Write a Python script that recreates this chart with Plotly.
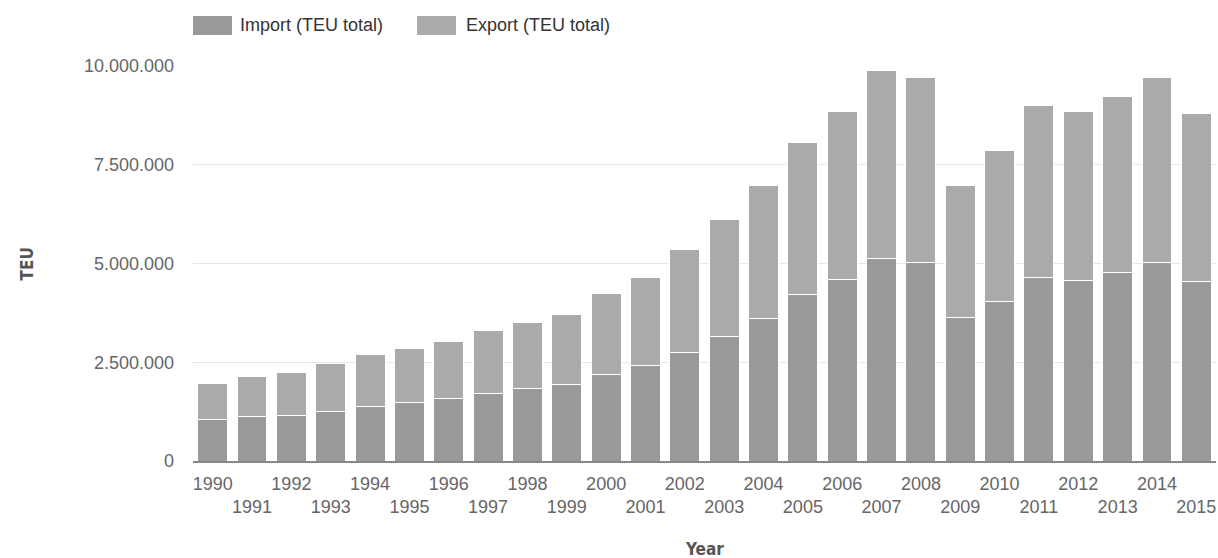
import plotly.graph_objects as go

years = [str(y) for y in range(1990, 2016)]
totals = [1.95, 2.15, 2.25, 2.48, 2.70, 2.86, 3.02, 3.31, 3.51, 3.70,
          4.23, 4.65, 5.36, 6.11, 6.98, 8.06, 8.84, 9.88, 9.71, 6.98,
          7.87, 8.99, 8.84, 9.22, 9.71, 8.80]
imports_m = [1.04, 1.13, 1.16, 1.26, 1.39, 1.48, 1.58, 1.71, 1.83, 1.94,
             2.20, 2.43, 2.75, 3.14, 3.60, 4.21, 4.60, 5.12, 5.03, 3.63,
             4.05, 4.64, 4.58, 4.77, 5.03, 4.55]
import_teu = [round(v * 1_000_000) for v in imports_m]
export_teu = [round((t - v) * 1_000_000) for t, v in zip(totals, imports_m)]

series_names = ["Import (TEU total)", "Export (TEU total)"]
series_colors = ["#999999", "#aaaaaa"]

y_ticks = [0, 2_500_000, 5_000_000, 7_500_000, 10_000_000]
y_tick_text = ["0", "2.500.000", "5.000.000", "7.500.000", "10.000.000"]
x_tick_text = [y if i % 2 == 0 else "<br>" + y for i, y in enumerate(years)]

FONT = "Liberation Sans, Arial, sans-serif"
TITLE_FONT = "DejaVu Sans Condensed, Liberation Sans Narrow, Arial Narrow, sans-serif"

W, H = 1218, 558
ML, MR, MT, MB = 193, 2, 66, 97
PW = W - ML - MR
PH = H - MT - MB


def px_to_paper_x(px):
    return (px - ML) / PW


def py_to_paper_y(py):
    return (H - MB - py) / PH


fig = go.Figure()
for name, vals, col in zip(series_names, [import_teu, export_teu], series_colors):
    fig.add_trace(go.Bar(x=years, y=vals, name=name,
                         marker=dict(color=col, line=dict(color="#ffffff", width=1))))

# custom legend (large swatches like the reference)
legend_items = [(193, 232, 238), (417, 456, 464)]
shapes = []
annotations = []
for (x0, x1, tx), name, col in zip(legend_items, series_names, series_colors):
    shapes.append(dict(type="rect", xref="paper", yref="paper",
                       x0=px_to_paper_x(x0), x1=px_to_paper_x(x1),
                       y0=py_to_paper_y(35), y1=py_to_paper_y(16),
                       fillcolor=col, line=dict(width=0)))
    annotations.append(dict(text=name, xref="paper", yref="paper",
                            x=px_to_paper_x(tx), y=py_to_paper_y(25),
                            xanchor="left", yanchor="middle", showarrow=False,
                            font=dict(family=FONT, size=18, color="#333333")))

annotations += [
    dict(text="<b>TEU</b>", x=-0.174, y=0.5, xref="paper", yref="paper",
         textangle=-90, showarrow=False,
         font=dict(family=TITLE_FONT, size=17, color="#555555")),
    dict(text="<b>Year</b>", x=0.5, y=-0.253, xref="paper", yref="paper",
         showarrow=False,
         font=dict(family=TITLE_FONT, size=17, color="#555555")),
]

fig.update_layout(
    width=W, height=H,
    barmode="stack", bargap=0.24,
    plot_bgcolor="#ffffff", paper_bgcolor="#ffffff",
    margin=dict(l=ML, r=MR, t=MT, b=MB, autoexpand=False),
    font=dict(family=FONT, size=16, color="#666666"),
    showlegend=False,
    xaxis=dict(tickmode="array", tickvals=years, ticktext=x_tick_text,
               tickangle=0, tickfont=dict(size=18, color="#666666"), showgrid=False,
               showline=True, linecolor="#888888", linewidth=2, ticks="",
               ticklabelstandoff=5, automargin=False),
    yaxis=dict(range=[0, 10_000_000], tickmode="array", tickvals=y_ticks,
               ticktext=y_tick_text, tickfont=dict(size=18, color="#666666"),
               showgrid=True, gridcolor="#e6e6e6", gridwidth=1, zeroline=False,
               showline=False, ticks="", ticklabelstandoff=18, automargin=False),
    shapes=shapes,
    annotations=annotations,
)

fig.write_html("out.html",
               config={"displayModeBar": False},
               post_script="document.body.style.margin='0';document.body.style.overflow='hidden';")
